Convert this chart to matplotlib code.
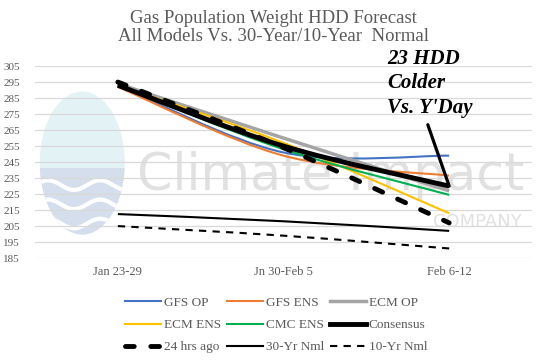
import numpy as np
import matplotlib.pyplot as plt
from matplotlib.patches import Ellipse, Rectangle, PathPatch
from matplotlib.path import Path
from matplotlib.lines import Line2D

# datos
weeks = ['Jan 23-29', 'Jn 30-Feb 5', 'Feb 6-12']
gfs_op = [293, 251, 249]
gfs_ens = [292, 249, 236.5]
ecm_op = [294, 260, 227]
ecm_ens = [293, 257, 213]
cmc_ens = [293, 253, 224.5]
consensus = [293, 255, 230]
hrs24_ago = [295, 254, 207]
nml_30yr = [212.5, 208, 202]
nml_10yr = [205, 199, 191]
yticks = list(range(185, 306, 10))


def smooth_path(x, y):
    # curva suavizada tipo Excel (bezier) entre los puntos
    pts = np.column_stack([x, y]).astype(float)
    n = len(pts)
    ext = np.vstack([pts[0], pts, pts[-1]])
    verts = [pts[0]]
    codes = [Path.MOVETO]
    for i in range(n - 1):
        p0, p1, p2, p3 = ext[i], ext[i + 1], ext[i + 2], ext[i + 3]
        verts += [p1 + (p2 - p0) / 6, p2 - (p3 - p1) / 6, p2]
        codes += [Path.CURVE4] * 3
    return Path(verts, codes)


fig = plt.figure(figsize=(5.47, 3.64), dpi=100)
ax = fig.add_axes([0.064, 0.291, 0.9086, 0.5275])
xs = np.arange(len(weeks))

# marca de agua (logo)
ax.add_patch(Ellipse((0.095, 0.495), 0.171, 0.745, transform=ax.transAxes,
                     facecolor='#e3f2f5', edgecolor='none', zorder=0))
lower = Rectangle((0, 0), 0.3, 0.47, transform=ax.transAxes,
                  facecolor='#d5deec', edgecolor='none', zorder=0)
ax.add_patch(lower)
clip = Ellipse((0.095, 0.495), 0.171, 0.745, transform=ax.transAxes,
               facecolor='none', edgecolor='none')
ax.add_patch(clip)
lower.set_clip_path(clip)
for yy in [0.38, 0.28, 0.18]:
    xw = np.linspace(0.0, 0.2, 60)
    w, = ax.plot(xw, yy + 0.025 * np.sin(xw * 60), color='white', lw=3,
                 transform=ax.transAxes, zorder=0)
    w.set_clip_path(clip)
ax.text(0.205, 0.354, 'Climate Impact', transform=ax.transAxes,
        fontsize=36.5, family='DejaVu Sans', color='#e1e1e1', zorder=0)
ax.text(0.98, 0.16, 'COMPANY', transform=ax.transAxes, ha='right',
        fontsize=13, family='DejaVu Sans', color='#e1e1e1', zorder=0)

series = [
    ('GFS OP', gfs_op, '#4472C4', 1.5, '-'),
    ('GFS ENS', gfs_ens, '#ED7D31', 1.5, '-'),
    ('ECM OP', ecm_op, '#A5A5A5', 2.5, '-'),
    ('ECM ENS', ecm_ens, '#FFC000', 1.5, '-'),
    ('CMC ENS', cmc_ens, '#00B050', 1.5, '-'),
    ('Consensus', consensus, 'black', 3.5, '-'),
    ('24 hrs ago', hrs24_ago, 'black', 3.5, (0, (1.8, 3.4))),
    ('30-Yr Nml', nml_30yr, 'black', 1.5, '-'),
    ('10-Yr Nml', nml_10yr, 'black', 1.5, (0, (3.5, 3))),
]

handles = {}
for i, (name, vals, col, lw, ls) in enumerate(series):
    cap = 'round' if name == '24 hrs ago' else 'butt'
    pp = PathPatch(smooth_path(xs, vals), facecolor='none', edgecolor=col,
                   lw=lw, linestyle=ls, capstyle=cap, zorder=3 + i)
    ax.add_patch(pp)
    handles[name] = Line2D([], [], color=col, lw=lw, linestyle=ls,
                           dash_capstyle=cap)

ax.set_xlim(-0.5, 2.5)
ax.set_ylim(185, 305)
ax.set_yticks(yticks)
ax.set_xticks(xs)
ax.set_xticklabels(weeks)
ax.grid(axis='y', color='#d9d9d9', lw=0.9)
ax.set_axisbelow(True)
for s in ax.spines.values():
    s.set_visible(False)
ax.tick_params(length=0, colors='#595959')
ax.tick_params(axis='y', pad=11, labelsize=8)
ax.tick_params(axis='x', pad=6, labelsize=9)
for lab in ax.get_xticklabels() + ax.get_yticklabels():
    lab.set_family('Liberation Serif')

fig.text(0.5, 1 - 10 / 364, 'Gas Population Weight HDD Forecast\n'
         'All Models Vs. 30-Year/10-Year  Normal', ha='center', va='top',
         fontsize=13.5, family='Liberation Serif', color='#595959',
         linespacing=1.1)

ax.annotate("23 HDD\nColder\nVs. Y'Day", xy=(2, consensus[-1]),
            xytext=(387, 364 - 49), textcoords='figure pixels',
            ha='left', va='top', fontsize=15, fontweight='bold',
            fontstyle='italic', family='Liberation Serif', linespacing=1.3,
            arrowprops=dict(arrowstyle='-', lw=2.3, color='black',
                            shrinkA=3, shrinkB=0, relpos=(0.45, 0)),
            zorder=20)

# leyenda en orden por columnas
order = ['GFS OP', 'ECM ENS', '24 hrs ago', 'GFS ENS', 'CMC ENS', '30-Yr Nml',
         'ECM OP', 'Consensus', '10-Yr Nml']
fig.legend([handles[k] for k in order], order, ncol=3, loc='upper center',
           bbox_to_anchor=(0.505, 1 - 285 / 364), frameon=False,
           prop={'family': 'Liberation Serif', 'size': 9.5},
           handlelength=2.7, handletextpad=0.25, columnspacing=0.45,
           labelspacing=0.75, labelcolor='#595959')

fig.savefig('out.png', dpi=100)
